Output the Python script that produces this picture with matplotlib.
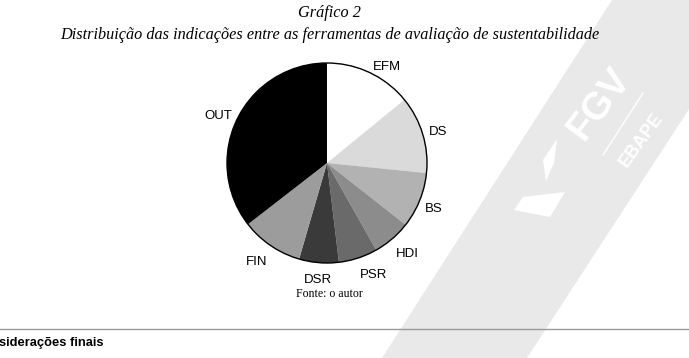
import numpy as np
import matplotlib.pyplot as plt
from matplotlib.patches import Polygon, Circle

# dados do grafico (estimados a partir da figura)
labels = ['EFM', 'DS', 'BS', 'HDI', 'PSR', 'DSR', 'FIN', 'OUT']
values = [14.1, 12.5, 9.0, 6.2, 6.3, 6.4, 10.0, 35.5]
colors = ['#ffffff', '#dadada', '#b2b2b2', '#8c8c8c', '#6a6a6a', '#3a3a3a', '#9c9c9c', '#000000']

W, H = 689, 358

fig = plt.figure(figsize=(6.89, 3.58), dpi=100)
ax = fig.add_axes([0, 0, 1, 1])


def py(y):
    # pixel coords (top origin) -> data coords
    return H - y


# marca d'agua FGV / EBAPE
band = Polygon([(612, py(0)), (760, py(0)), (527, py(358)), (382, py(358))],
               closed=True, facecolor='#e9e9e9', edgecolor='none', zorder=0)
ax.add_patch(band)
shape1 = Polygon([(557, py(139)), (554, py(163)), (546, py(181)), (543, py(160))],
                 closed=True, facecolor='white', edgecolor='none', zorder=1)
shape2 = Polygon([(514, py(210)), (523, py(197)), (565, py(192)), (550, py(217))],
                 closed=True, facecolor='white', edgecolor='none', zorder=1)
ax.add_patch(shape1)
ax.add_patch(shape2)
ax.text(599, py(104), 'FGV', rotation=53, color='white', fontsize=28, fontweight='bold',
        family='Liberation Sans', ha='center', va='center', zorder=1,
        rotation_mode='anchor')
ax.plot([603, 643], [py(155), py(93)], color='white', lw=1.0, zorder=1)
ax.text(641, py(140), 'EBAPE', rotation=54, color='white', fontsize=13, fontweight='bold',
        family='Liberation Sans', ha='center', va='center', zorder=1,
        rotation_mode='anchor')

# pizza
cx, cy, r = 327, py(163), 100
wedges, texts = ax.pie(values, labels=labels, colors=colors, startangle=90,
                       counterclock=False, center=(cx, cy), radius=r,
                       labeldistance=1.06, wedgeprops=dict(linewidth=0),
                       textprops=dict(family='Liberation Sans', fontsize=9.5))
# rotulos estilo Excel: alinhados para fora, os de baixo um pouco mais abaixo
for t in texts:
    x, y = t.get_position()
    dx, dy = x - cx, y - cy
    d = np.hypot(dx, dy)
    c, s = dx / d, dy / d
    if abs(c) < 0.15:
        t.set_ha('center')
    else:
        t.set_ha('left' if c > 0 else 'right')
    if s < 0:
        t.set_position((x, y - 11 * min(1, 1.6 * abs(s))))
ax.add_patch(Circle((cx, cy), r, fill=False, edgecolor='black', lw=1.0, zorder=3))

# textos
ax.text(329, py(13), 'Gráfico 2', family='Liberation Serif', style='italic',
        fontsize=11.7, ha='center', va='center')
ax.text(330, py(35), 'Distribuição das indicações entre as ferramentas de avaliação de sustentabilidade',
        family='Liberation Serif', style='italic', fontsize=11.7, ha='center', va='center')
ax.text(329, py(294), 'Fonte: o autor', family='Liberation Serif', fontsize=8.5,
        ha='center', va='center')

ax.plot([0, W], [py(329), py(329)], color='#9a9a9a', lw=1.0)
ax.text(-1, py(343), 'siderações finais', family='Liberation Sans', fontweight='bold',
        fontsize=9.3, ha='left', va='center')

ax.set_xlim(0, W)
ax.set_ylim(0, H)
ax.set_aspect('auto')
ax.axis('off')

fig.savefig('out.png', dpi=100)
